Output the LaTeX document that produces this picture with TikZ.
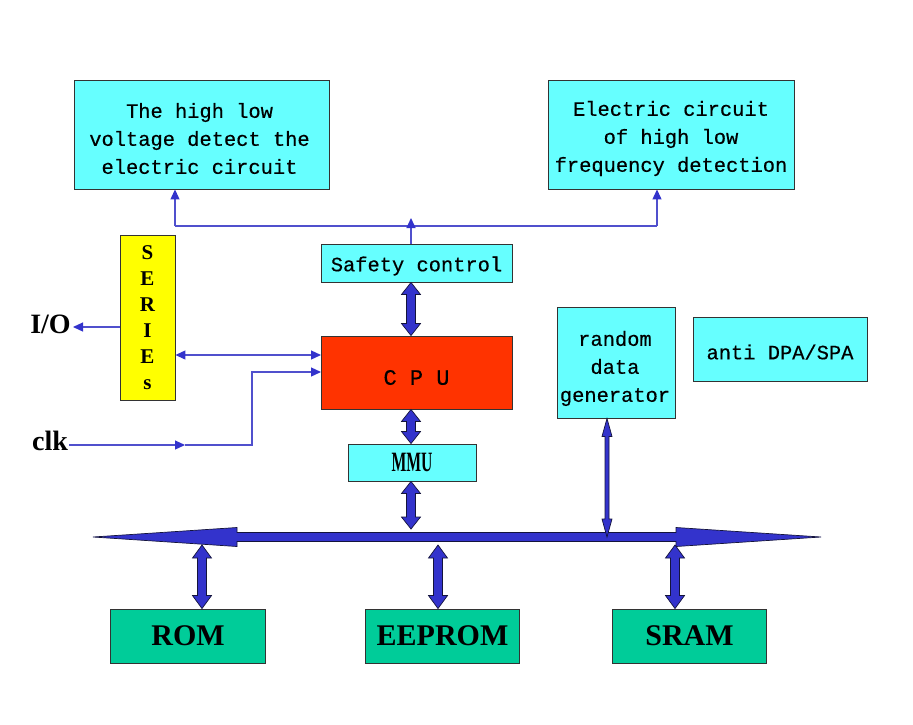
\documentclass[tikz,border=0pt]{standalone}
\usepackage{fontspec}
\usepackage{graphicx}
\setmainfont{Liberation Serif}
\newfontfamily\monof[FakeBold=0.4]{Liberation Mono}
\usetikzlibrary{calc,arrows.meta}
\definecolor{boxcyan}{RGB}{102,255,255}
\definecolor{seryellow}{RGB}{255,255,0}
\definecolor{cpured}{RGB}{255,51,0}
\definecolor{memgreen}{RGB}{0,204,153}
\definecolor{arrowblue}{RGB}{51,51,204}
\definecolor{lineblue}{RGB}{80,80,205}
\definecolor{edgedark}{RGB}{20,20,60}
\newcommand\tdarrow[5]{%
  \draw[bigarr] let \p1=#1, \p2=#2 in
    (\x1,\y1) -- (\x1+#4,\y1-#5) -- (\x1+#3,\y1-#5) -- (\x1+#3,\y2+#5) -- (\x1+#4,\y2+#5)
    -- (\x1,\y2) -- (\x1-#4,\y2+#5) -- (\x1-#3,\y2+#5) -- (\x1-#3,\y1-#5) -- (\x1-#4,\y1-#5) -- cycle;}
\begin{document}
\begin{tikzpicture}[x=1pt,y=-1pt,
  box/.style={draw=black!80, line width=0.9pt, inner sep=0pt, fill=boxcyan},
  boxtext/.style={inner sep=0pt, font=\monof\fontsize{20.4}{28}\selectfont, align=center},
  membox/.style={draw=black!80, line width=0.9pt, inner sep=0pt, fill=memgreen,
    minimum width=154pt, minimum height=54pt, font=\bfseries\fontsize{30}{30}\selectfont},
  lbl/.style={inner sep=1pt, anchor=base, font=\bfseries\fontsize{28}{28}\selectfont},
  thinl/.style={draw=lineblue, line width=1.2pt},
  arr/.style={-{Triangle[length=10pt,width=9pt,fill=arrowblue,color=arrowblue]}},
  darr/.style={{Triangle[length=10pt,width=9pt,fill=arrowblue,color=arrowblue]}-{Triangle[length=10pt,width=9pt,fill=arrowblue,color=arrowblue]}},
  bigarr/.style={fill=arrowblue, draw=edgedark, line width=0.7pt, line join=miter}
]
\useasboundingbox (0,0) rectangle (913,724);
\fill[white] (0,0) rectangle (913,724);

% boxes
\node[box, minimum width=255pt, minimum height=109pt] (hv) at (201.5,134.5) {};
\node[boxtext] (hvt) at ($(hv.center)+(-2,4)$)
  {The high low\\voltage detect the\\electric circuit};
\node[box, minimum width=246pt, minimum height=109pt] (fd) at (671,134.5) {};
\node[boxtext] (fdt) at ($(fd.center)+(0,4)$)
  {Electric circuit\\of high low\\frequency detection};
\node[box, minimum width=191pt, minimum height=38pt] (saf) at (416.5,263) {};
\node[boxtext] (saft) at ($(saf.center)+(0,3)$) {Safety control};
\node[draw=black!80, line width=0.9pt, inner sep=0pt, fill=seryellow,
  minimum width=55pt, minimum height=165pt, align=center,
  font=\bfseries\fontsize{21}{26}\selectfont] (ser) at (147.5,317.5) {S\\E\\R\\I\\E\\s};
\node[box, fill=cpured, minimum width=191pt, minimum height=73pt] (cpu) at (416.5,372.5) {};
\node[boxtext, font=\monof\fontsize{22}{22}\selectfont] (cput) at ($(cpu.center)+(0,5)$) {C P U};
\node[box, minimum width=128pt, minimum height=37pt,
  font=\bfseries\fontsize{28}{28}\selectfont] (mmu) at (412,462.5) {\scalebox{0.56}[1]{MMU}};
\node[box, minimum width=118pt, minimum height=111pt] (rdg) at (616,362.5) {};
\node[boxtext] (rdgt) at ($(rdg.center)+(-1,6)$) {random\\data\\generator};
\node[box, minimum width=174pt, minimum height=64pt] (anti) at (780,349) {};
\node[boxtext] (antit) at ($(anti.center)+(0,3)$) {anti DPA/SPA};
\node[membox, minimum width=155pt] (rom) at (188,636) {ROM};
\node[membox] (eeprom) at (442.5,636) {EEPROM};
\node[membox] (sram) at (689.5,636) {SRAM};

\node[lbl] (io) at (50.5,333) {I/O};
\node[lbl] (clk) at (50,450) {clk};

% top distribution
\coordinate (jl) at (175,226);
\coordinate (jr) at (657,226);
\coordinate (st) at (411,218);
\draw[thinl] (jl) -- (jr);
\draw[thinl,arr] (jl) -- (jl |- hv.south);
\draw[thinl,arr] (jr) -- (jr |- fd.south);
\draw[thinl,arr] (saf.north -| st) -- (st);

% left side
\coordinate (ioT) at (73,327);
\draw[thinl,arr] (ser.west |- ioT) -- (ioT);
\coordinate (cA) at (321,355);
\coordinate (cB) at (321,372);
\draw[thinl,darr] (ser.east |- cA) -- (cA);
\coordinate (cm) at (185,445);
\coordinate (cc) at (252,445);
\draw[thinl,arr] (clk.east |- cm) -- (cm);
\draw[thinl,arr] (cm) -- (cc) |- (cB);

% thick vertical arrows in the CPU column
\coordinate (ax) at (411,0);
\coordinate (mb) at (411,529);
\tdarrow{(saf.south -| ax)}{(cpu.north -| ax)}{4.5pt}{9.5pt}{12pt}
\tdarrow{(cpu.south -| ax)}{(mmu.north -| ax)}{4.5pt}{9.5pt}{12pt}
\tdarrow{(mmu.south -| ax)}{(mb)}{4.5pt}{9.5pt}{12pt}

% bus
\coordinate (busL) at (93,537);
\coordinate (busR) at (821,537);
\draw[bigarr] (busL) -- (237,527.5) -- (237,532.5) -- (676,532.5) -- (676,527.5) -- (busR)
  -- (676,546.5) -- (676,541.5) -- (237,541.5) -- (237,546.5) -- cycle;

% bus to memories
\coordinate (b1) at (202,545);
\coordinate (b2) at (438,545);
\coordinate (b3) at (675,545);
\tdarrow{(b1)}{(rom.north -| b1)}{4.5pt}{9.5pt}{13pt}
\tdarrow{(b2)}{(eeprom.north -| b2)}{4.5pt}{9.5pt}{13pt}
\tdarrow{(b3)}{(sram.north -| b3)}{4.5pt}{9.5pt}{13pt}

% random data generator to bus
\coordinate (rx) at (607,537);
\tdarrow{(rdg.south -| rx)}{(rx)}{2pt}{5pt}{18pt}
\end{tikzpicture}
\end{document}
